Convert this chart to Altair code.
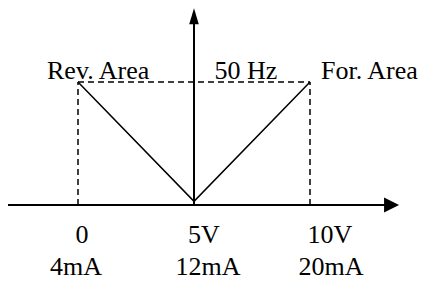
import altair as alt
import pandas as pd

# ---- data ----
volt_ticks = [0, 5, 10]
volt_labels = ["0", "5V", "10V"]
current_labels = ["4mA", "12mA", "20mA"]
max_freq = 50
vertex_freq = 1.5
freq_label = "50 Hz"
area_labels = ["Rev. Area", "For. Area"]

# ---- layout (pixels / data units) ----
PX_PER_V = 23.2
PX_PER_HZ = 2.46
W, H = 414, 274
x0 = -70 / PX_PER_V
y1 = 197 / PX_PER_HZ
xdom = [x0, x0 + W / PX_PER_V]
ydom = [y1 - H / PX_PER_HZ, y1]
volt_dx = [4, 10, 20]
curr_dx = [-2, 14, 21]

xs = alt.Scale(domain=xdom, nice=False, zero=False)
ys = alt.Scale(domain=ydom, nice=False, zero=False)
X = lambda f: alt.X(f, type="quantitative", scale=xs, axis=None)
Y = lambda f: alt.Y(f, type="quantitative", scale=ys, axis=None)

black = "#000000"

# axes
haxis = alt.Chart(pd.DataFrame({"x": [xdom[0]], "x2": [13.5], "y": [0]})).mark_rule(
    color=black, strokeWidth=2).encode(x=X("x"), x2="x2", y=Y("y"))
vaxis = alt.Chart(pd.DataFrame({"x": [5], "y": [0], "y2": [77]})).mark_rule(
    color=black, strokeWidth=2).encode(x=X("x"), y=Y("y"), y2="y2")

right_arrow = alt.Chart(pd.DataFrame({"x": [13.84], "y": [0]})).mark_point(
    shape="M0,0L-2,-1L-2,1Z", size=225, filled=True, color=black, opacity=1,
    strokeWidth=0).encode(x=X("x"), y=Y("y"))
up_arrow = alt.Chart(pd.DataFrame({"x": [5], "y": [80]})).mark_point(
    shape="M0,0L0.6,2L-0.6,2Z", size=256, filled=True, color=black, opacity=1,
    strokeWidth=0).encode(x=X("x"), y=Y("y"))

# dashed lines
dash_h = alt.Chart(pd.DataFrame({"x": [volt_ticks[0]], "x2": [volt_ticks[2]], "y": [max_freq]})).mark_rule(
    color=black, strokeWidth=1.5, strokeDash=[6, 4]).encode(x=X("x"), x2="x2", y=Y("y"))
dash_v = alt.Chart(pd.DataFrame({"x": [volt_ticks[0], volt_ticks[2]], "y": [0, 0], "y2": [max_freq, max_freq]})).mark_rule(
    color=black, strokeWidth=1.5, strokeDash=[6, 4]).encode(x=X("x"), y=Y("y"), y2="y2")

# V shape
vline = alt.Chart(pd.DataFrame({"x": volt_ticks, "y": [max_freq, vertex_freq, max_freq], "o": [0, 1, 2]})).mark_line(
    color=black, strokeWidth=1.5).encode(x=X("x"), y=Y("y"), order="o:Q")

font = "Liberation Serif"
fs = 26

volt_df = pd.DataFrame({"x": [t + d / PX_PER_V for t, d in zip(volt_ticks, volt_dx)],
                        "y": [-38 / PX_PER_HZ] * 3, "t": volt_labels})
curr_df = pd.DataFrame({"x": [t + d / PX_PER_V for t, d in zip(volt_ticks, curr_dx)],
                        "y": [-70 / PX_PER_HZ] * 3, "t": current_labels})
vtext = alt.Chart(volt_df).mark_text(font=font, fontSize=fs, color=black, align="center",
                                     baseline="alphabetic").encode(x=X("x"), y=Y("y"), text="t")
ctext = alt.Chart(curr_df).mark_text(font=font, fontSize=fs, color=black, align="center",
                                     baseline="alphabetic").encode(x=X("x"), y=Y("y"), text="t")

top_y = 126 / PX_PER_HZ
rev = alt.Chart(pd.DataFrame({"x": [-31 / PX_PER_V], "y": [top_y], "t": [area_labels[0]]})).mark_text(
    font=font, fontSize=fs, color=black, align="left", baseline="alphabetic").encode(x=X("x"), y=Y("y"), text="t")
fwd = alt.Chart(pd.DataFrame({"x": [243 / PX_PER_V], "y": [top_y], "t": [area_labels[1]]})).mark_text(
    font=font, fontSize=fs, color=black, align="left", baseline="alphabetic").encode(x=X("x"), y=Y("y"), text="t")
hz = alt.Chart(pd.DataFrame({"x": [168 / PX_PER_V], "y": [top_y], "t": [freq_label]})).mark_text(
    font=font, fontSize=fs, color=black, align="center", baseline="alphabetic").encode(x=X("x"), y=Y("y"), text="t")

chart = alt.layer(dash_h, dash_v, vline, haxis, vaxis, right_arrow, up_arrow,
                  vtext, ctext, rev, fwd, hz).properties(
    width=W, height=H, padding=0, autosize=alt.AutoSizeParams(type="none"),
    background="white").configure_view(strokeWidth=0)

chart.save("out.html", embed_options={"renderer": "svg", "actions": False})
